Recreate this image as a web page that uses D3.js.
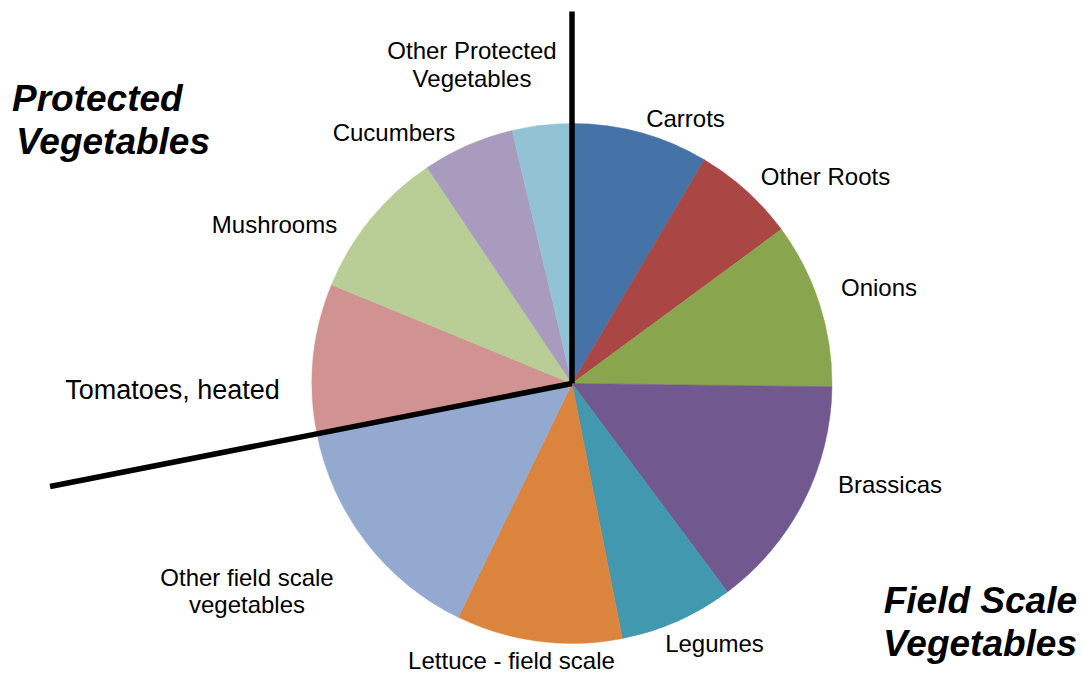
<!DOCTYPE html>
<html>
<head>
<meta charset="utf-8">
<script src="https://cdn.jsdelivr.net/npm/d3@7"></script>
<style>
  html, body { margin: 0; padding: 0; background: #ffffff; }
  svg { display: block; }
  text { font-family: "Liberation Sans", Arial, sans-serif; fill: #000; }
</style>
</head>
<body>
<svg id="chart" width="1082" height="675"></svg>
<script>
// ---- data ----
const categories = [
  "Carrots", "Other Roots", "Onions", "Brassicas", "Legumes",
  "Lettuce - field scale", "Other field scale vegetables",
  "Tomatoes, heated", "Mushrooms", "Cucumbers", "Other Protected Vegetables"
];
const values = [8.5, 6.4, 10.3, 14.6, 7.1, 10.3, 14.7, 9.3, 9.4, 5.7, 3.7];
const groups = ["Field", "Field", "Field", "Field", "Field", "Field", "Field",
                "Protected", "Protected", "Protected", "Protected"];
const groupTitles = [["Field Scale", "Vegetables"], ["Protected", "Vegetables"]];

// ---- styling / layout (kept apart from data) ----
const colors = ["#4572A7", "#AA4643", "#89A54E", "#71588F", "#4198AF", "#DB843D",
                "#93A9CF", "#D19392", "#B9CD96", "#A99BBD", "#92C3D5"];
const labelLines = [
  ["Carrots"], ["Other Roots"], ["Onions"], ["Brassicas"], ["Legumes"],
  ["Lettuce - field scale"], ["Other field scale", "vegetables"],
  ["Tomatoes, heated"], ["Mushrooms"], ["Cucumbers"], ["Other Protected", "Vegetables"]
];
// label centre offsets relative to pie centre
const labelOffsets = [
  [113.5, -265], [253.5, -207], [307, -96], [318, 101], [142.5, 260],
  [-60.5, 277.5], [-325, 207.5], [-399.5, 6], [-297.5, -159], [-178, -251], [-100, -319]
];
const labelSizes = [24, 24, 24, 24, 24, 24, 24, 27, 24, 24, 24];

const W = 1082, H = 675;
const cx = 572, cy = 383.5, R = 260;

const svg = d3.select("#chart");
const g = svg.append("g").attr("transform", `translate(${cx},${cy})`);

const data = categories.map((c, i) => ({ name: c, value: values[i], group: groups[i], i }));

const pie = d3.pie().value(d => d.value).sort(null);
const arcs = pie(data);
const arc = d3.arc().innerRadius(0).outerRadius(R);

g.selectAll("path.slice")
  .data(arcs)
  .enter().append("path")
  .attr("class", "slice")
  .attr("d", arc)
  .attr("fill", d => colors[d.data.i])
  .attr("stroke", d => colors[d.data.i])
  .attr("stroke-width", 0.5);

// labels
arcs.forEach(a => {
  const i = a.data.i;
  const lines = labelLines[i];
  const fs = labelSizes[i];
  const lh = fs * 1.15;
  const [ox, oy] = labelOffsets[i];
  const t = g.append("text")
    .attr("text-anchor", "middle")
    .attr("font-size", fs);
  lines.forEach((ln, k) => {
    t.append("tspan")
      .attr("x", ox)
      .attr("y", oy + (k - (lines.length - 1) / 2) * lh + fs * 0.35)
      .text(ln);
  });
});

// group divider lines at group boundaries
const boundaries = [];
arcs.forEach((a, k) => {
  const prev = arcs[(k - 1 + arcs.length) % arcs.length];
  if (prev.data.group !== a.data.group) boundaries.push(a.startAngle);
});
const dividerLen = { top: 372, other: 532 };
boundaries.forEach(ang => {
  const isTop = Math.abs(ang) < 1e-6 || Math.abs(ang - 2 * Math.PI) < 1e-6;
  const L = isTop ? dividerLen.top : dividerLen.other;
  g.append("line")
    .attr("x1", 0).attr("y1", 0)
    .attr("x2", L * Math.sin(ang))
    .attr("y2", -L * Math.cos(ang))
    .attr("stroke", "#000")
    .attr("stroke-width", 5.5)
    .attr("stroke-linecap", "butt");
});

// group titles
const titleStyle = t => t.attr("font-size", 37).attr("font-weight", "bold").attr("font-style", "italic");
const prot = svg.append("text").attr("text-anchor", "start").call(titleStyle);
groupTitles[1].forEach((ln, k) => {
  prot.append("tspan").attr("x", 12 + k * 4).attr("y", 111 + k * 43).text(ln);
});
const field = svg.append("text").attr("text-anchor", "end").call(titleStyle);
groupTitles[0].forEach((ln, k) => {
  field.append("tspan").attr("x", 1077).attr("y", 613 + k * 43).text(ln);
});
</script>
</body>
</html>
